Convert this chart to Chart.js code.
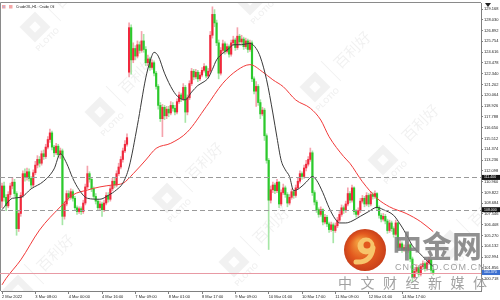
<!DOCTYPE html>
<html><head><meta charset="utf-8">
<script src="https://cdn.jsdelivr.net/npm/chart.js@4"></script>
<style>html,body{margin:0;padding:0;background:#fff;overflow:hidden}canvas{display:block}</style>
</head><body>
<canvas id="c" width="500" height="300"></canvas>
<script>
const title = 'CrudeOIL,H1 : Crude Oil';
const xLabels = ['2 Mar 2022','3 Mar 08:00','4 Mar 00:00','4 Mar 16:00','7 Mar 09:00','8 Mar 01:00','8 Mar 17:00','9 Mar 09:00','10 Mar 01:00','10 Mar 17:00','11 Mar 09:00','12 Mar 01:00','14 Mar 17:00'];
const xLabelBars = [0,16,32,48,64,80,96,112,128,144,160,176,192];
const yTickValues = [129.168,128.030,126.892,125.754,124.616,123.478,122.340,121.202,120.064,118.926,117.788,116.650,115.512,114.374,113.236,112.098,110.960,109.822,108.684,107.546,106.408,105.270,104.132,102.994,101.856,100.718];

const open = [
108.9,110.5,109.3,108.4,109.6,110.5,110.9,109.7,106.0,107.6,
109.5,111.8,111.4,112.0,111.3,110.6,111.9,112.7,113.3,112.9,
113.9,113.6,114.6,115.4,116.1,114.6,114.0,114.7,113.8,114.2,
107.3,108.6,109.7,109.3,109.9,109.2,108.2,107.8,108.1,107.8,
108.7,110.4,111.8,111.2,110.2,109.4,108.9,108.2,108.6,108.0,
108.7,109.5,109.1,110.2,111.0,110.6,111.8,112.5,113.3,114.2,
114.9,122.5,127.2,123.8,125.0,124.2,125.4,124.8,125.8,124.9,
123.5,123.9,123.0,123.5,122.4,121.0,119.0,117.6,118.8,117.9,
118.6,118.2,119.0,118.7,118.3,119.4,120.1,119.7,120.9,118.3,
119.8,121.3,122.6,122.0,122.5,121.8,122.2,122.7,123.1,122.1,
122.6,126.4,128.6,127.7,125.6,122.4,124.8,125.5,124.7,125.2,
124.4,125.6,125.9,125.1,126.3,125.7,126.0,125.2,125.8,124.9,
125.6,121.8,120.5,121.0,119.3,118.1,118.5,115.8,113.2,109.0,
110.1,110.6,110.0,110.9,108.6,109.8,110.3,109.6,108.7,109.3,
109.9,109.5,110.3,111.0,111.8,111.5,112.4,112.8,113.3,114.0,
109.8,108.8,108.0,107.5,108.0,106.7,107.2,106.5,105.9,106.4,
105.8,106.3,106.9,107.5,108.2,107.9,108.6,109.7,109.0,110.3,
107.8,107.5,107.9,108.9,109.2,108.6,109.5,108.6,109.6,109.4,
109.7,108.2,107.4,107.0,107.3,106.8,105.8,106.6,106.0,105.4,
106.6,104.0,104.4,103.8,104.0,103.7,104.3,102.8,100.9,101.5,
101.9,101.2,102.0,102.3,101.8,102.4,102.7,101.6];
const high = [
110.8,110.9,109.6,109.9,110.8,111.4,111.2,109.9,107.9,109.8,
112.1,112.3,112.4,112.3,111.5,112.2,113.1,113.7,113.6,114.2,
114.3,114.9,115.7,116.5,116.3,114.8,115.0,114.9,114.5,114.4,
108.9,110.0,110.0,110.2,110.1,109.4,108.4,108.3,108.3,109.0,
110.7,112.6,112.0,111.4,110.4,109.7,109.1,108.9,108.8,109.0,
109.8,109.8,110.5,111.3,111.3,112.1,112.9,113.6,114.5,115.3,
116.0,127.7,127.5,125.6,125.3,125.8,125.7,126.8,126.5,125.2,
124.3,124.1,123.8,123.7,122.6,121.2,119.3,119.1,119.0,118.9,
118.9,119.4,119.3,119.0,119.7,120.4,120.3,121.3,121.1,120.1,
121.6,122.9,122.8,122.8,122.7,122.5,123.0,123.4,123.2,122.9,
126.8,129.4,129.1,128.0,125.9,125.1,125.9,125.7,125.5,125.4,
125.9,126.3,126.1,127.2,126.5,126.4,126.2,126.1,126.0,125.9,
125.8,122.0,121.5,121.2,119.6,118.8,118.7,116.0,113.4,110.5,
110.9,110.8,111.2,111.0,110.1,110.7,110.5,109.8,109.6,110.2,
110.1,110.6,111.3,112.1,112.0,112.7,113.2,113.6,114.5,114.2,
110.0,109.0,108.2,108.3,108.1,107.5,107.4,106.7,106.7,106.6,
106.6,107.2,107.8,108.5,108.4,108.9,110.3,109.9,110.6,110.4,
108.0,108.2,109.2,109.5,109.4,109.8,109.7,109.9,109.8,110.0,
109.8,108.4,107.6,107.6,107.5,107.0,106.9,106.8,106.2,106.9,
106.7,104.8,104.6,104.3,104.2,104.6,104.4,103.0,101.8,102.2,
102.1,102.3,102.6,102.5,102.7,103.0,102.8,101.8];
const low = [
108.2,108.9,107.9,108.2,109.3,110.2,109.4,105.3,105.7,107.3,
109.3,111.0,111.1,111.0,110.3,110.4,111.7,112.4,112.5,112.7,
113.3,113.4,114.4,115.1,114.3,113.6,113.8,113.5,113.4,106.4,
107.0,108.4,109.0,109.1,108.9,107.9,107.5,107.6,107.5,107.6,
108.5,110.2,110.9,109.9,109.1,108.6,107.9,107.9,107.3,107.8,
108.5,108.8,108.9,110.0,110.3,110.4,111.6,112.3,113.0,114.0,
114.7,122.0,122.3,123.5,123.8,124.0,124.5,124.6,124.6,123.2,
123.2,122.7,122.8,122.1,120.7,118.6,117.3,115.7,117.5,117.6,
117.8,118.0,118.4,118.0,118.1,119.2,119.4,119.5,117.2,118.0,
119.6,121.1,121.7,121.8,121.5,121.6,122.0,122.5,121.9,121.9,
122.4,126.1,127.3,125.3,121.8,122.2,124.5,124.4,124.5,124.1,
124.2,125.3,124.8,124.9,125.4,125.4,124.9,125.0,124.6,124.7,
121.5,120.2,118.9,119.0,117.6,117.9,115.3,112.9,103.8,108.7,
109.8,109.7,109.8,108.2,108.4,109.6,109.3,108.3,108.5,109.1,
109.2,109.3,110.1,110.8,111.2,111.3,112.1,112.6,113.1,109.5,
108.5,107.7,107.2,107.3,106.4,106.5,106.2,105.6,105.7,104.5,
105.6,106.1,106.7,107.3,107.6,107.7,108.4,108.7,108.8,107.5,
107.2,107.3,107.7,108.7,108.3,108.4,108.3,108.4,109.1,109.2,
107.9,107.1,106.7,106.8,106.5,105.5,105.6,105.7,105.1,105.2,
103.7,103.8,103.5,103.6,103.4,103.5,102.5,100.4,100.7,101.3,
100.9,101.0,101.8,101.5,101.6,102.2,101.3,101.1];
const close = [
110.5,109.3,108.4,109.6,110.5,110.9,109.7,106.0,107.6,109.5,
111.8,111.4,112.0,111.3,110.6,111.9,112.7,113.3,112.9,113.9,
113.6,114.6,115.4,116.1,114.6,114.0,114.7,113.8,114.2,107.3,
108.6,109.7,109.3,109.9,109.2,108.2,107.8,108.1,107.8,108.7,
110.4,111.8,111.2,110.2,109.4,108.9,108.2,108.6,108.0,108.7,
109.5,109.1,110.2,111.0,110.6,111.8,112.5,113.3,114.2,114.9,
115.6,127.2,123.8,125.0,124.2,125.4,124.8,125.8,124.9,123.5,
123.9,123.0,123.5,122.4,121.0,119.0,117.6,118.8,117.9,118.6,
118.2,119.0,118.7,118.3,119.4,120.1,119.7,120.9,118.3,119.8,
121.3,122.6,122.0,122.5,121.8,122.2,122.7,123.1,122.1,122.6,
126.4,128.6,127.7,125.6,122.4,124.8,125.5,124.7,125.2,124.4,
125.6,125.9,125.1,126.3,125.7,126.0,125.2,125.8,124.9,125.6,
121.8,120.5,121.0,119.3,118.1,118.5,115.8,113.2,109.0,110.1,
110.6,110.0,110.9,108.6,109.8,110.3,109.6,108.7,109.3,109.9,
109.5,110.3,111.0,111.8,111.5,112.4,112.8,113.3,114.0,109.8,
108.8,108.0,107.5,108.0,106.7,107.2,106.5,105.9,106.4,105.8,
106.3,106.9,107.5,108.2,107.9,108.6,109.7,109.0,110.3,107.8,
107.5,107.9,108.9,109.2,108.6,109.5,108.6,109.6,109.4,109.7,
108.2,107.4,107.0,107.3,106.8,105.8,106.6,106.0,105.4,106.6,
104.0,104.4,103.8,104.0,103.7,104.3,102.8,100.9,101.5,101.9,
101.2,102.0,102.3,101.8,102.4,102.7,101.6,101.37];

const maFastIdx = [0,5,9,14,20,25,28,31,34,37,41,47,51,55,58,61,65,69,71,73,75,78,82,85,88,91,94,97,99,101,103,106,109,111,115,119,122,124,127,130,132,134,136,138,140,143,146,149,151,154,157,160,162,165,168,172,176,180,183,188,191,193,195,197,200,202,204,207];
const maFastVal = [108.0,109.2,109.3,110.2,111.0,112.3,113.9,112.9,111.3,110.1,109.2,109.1,109.5,110.1,110.8,112.5,116.9,121.9,123.6,124.6,124.2,122.4,120.6,119.8,119.6,120.4,121.1,121.5,121.9,122.8,123.8,124.5,125.0,125.4,125.4,125.55,125.0,124.1,121.7,118.2,115.6,113.2,112.2,111.5,110.0,110.3,110.9,111.5,111.1,109.8,108.2,107.0,106.6,106.6,106.8,107.3,107.8,108.25,108.0,107.4,106.5,105.8,105.0,104.2,103.5,103.05,102.6,102.0];
const maSlowIdx = [0,2,9,18,28,34,41,47,53,58,63,69,74,81,89,98,106,113,119,125,130,135,141,148,153,157,164,167,173,180,186,194,201,207];
const maSlowVal = [100.07,100.76,102.7,105.85,108.3,109.55,110.07,110.4,110.6,110.78,111.8,113.24,114.47,115.0,116.2,118.86,121.33,122.73,123.3,122.55,121.7,120.97,119.57,118.7,117.46,115.7,113.6,112.89,110.95,109.2,108.3,107.6,106.73,105.68];

const levels = [111.40, 108.00];
const bidPrice = 101.37;

const UP='#f0283c', DOWN='#2cc92c', UPW='#f5a3ad', DOWNW='#a6e6a6';

// faint broker watermark tiles (page decoration)
const wmCenters = [[35,27],[100,112],[167,198],[234,262],[18,290],[250,0],[315,87],[383,160],[450,245]];
function drawWatermarks(ctx){
  ctx.save();
  wmCenters.forEach(([cx,cy])=>{
    ctx.save();
    ctx.translate(cx,cy); ctx.rotate(-Math.PI/4);
    ctx.fillStyle='rgba(0,0,0,0.055)';
    ctx.fillRect(-11,-11,22,22);
    ctx.fillStyle='rgba(255,255,255,0.9)';
    ctx.fillRect(-4,-4,8,8);
    ctx.fillStyle='rgba(0,0,0,0.06)';
    ctx.font='bold 8px "Liberation Sans"'; ctx.textAlign='center'; ctx.textBaseline='middle';
    ctx.fillText('PLOTIO',0,18);
    ctx.fillRect(22,-14,1,28);
    ctx.font='15px "Noto Sans CJK SC"'; ctx.textAlign='left';
    ctx.fillText('百利好',30,0);
    ctx.restore();
  });
  ctx.restore();
}

function drawLogo(ctx){
  ctx.save();
  const cx=365, cy=250, r=21;
  const g=ctx.createRadialGradient(cx-6,cy-8,2,cx,cy,r);
  g.addColorStop(0,'#f39a3c'); g.addColorStop(0.6,'#e2581e'); g.addColorStop(1,'#c9401a');
  ctx.fillStyle=g; ctx.beginPath(); ctx.arc(cx,cy,r,0,Math.PI*2); ctx.fill();
  ctx.fillStyle='#f7c56b';
  ctx.beginPath(); ctx.arc(cx+1,cy-4,8.5,0,Math.PI*2); ctx.fill();
  ctx.fillStyle='#e2581e'; ctx.beginPath(); ctx.arc(cx+2,cy-5,3.5,0,Math.PI*2); ctx.fill();
  ctx.strokeStyle='#f7c56b'; ctx.lineWidth=5; ctx.lineCap='round';
  ctx.beginPath(); ctx.moveTo(cx+8,cy-2); ctx.quadraticCurveTo(cx+6,cy+13,cx-9,cy+12); ctx.stroke();
  ctx.fillStyle='rgba(125,125,125,0.85)';
  ctx.font='bold 30px "Noto Sans CJK SC"'; ctx.textBaseline='middle'; ctx.textAlign='left';
  ctx.fillText('中金网',392,246);
  ctx.fillStyle='rgba(150,150,150,0.9)';
  ctx.font='9px "Liberation Sans"'; ctx.letterSpacing='1px';
  ctx.fillText('CNGOLD.COM.CN',395,268);
  ctx.letterSpacing='0px';
  ctx.font='14px "Noto Sans CJK SC"'; ctx.textAlign='center';
  '中文财经新媒体'.split('').forEach((ch,k)=>ctx.fillText(ch,345+k*22.5,283));
  ctx.restore();
}

const decor = {
  id:'decor',
  beforeDraw(chart){
    const {ctx,width,height}=chart;
    ctx.save(); ctx.fillStyle='#fff'; ctx.fillRect(0,0,width,height); ctx.restore();
  },
  beforeDatasetsDraw(chart){
    const {ctx, chartArea:a}=chart;
    ctx.save();
    ctx.beginPath(); ctx.rect(a.left,a.top,a.right-a.left,a.bottom-a.top); ctx.clip();
    drawWatermarks(ctx);
    ctx.restore();
    ctx.save(); ctx.strokeStyle='#8a8a8a'; ctx.lineWidth=1;
    ctx.beginPath(); ctx.moveTo(a.left-0.5,a.bottom); ctx.lineTo(a.left-0.5,a.top-0.5); ctx.lineTo(a.right,a.top-0.5); ctx.stroke();
    ctx.restore();
  },
  afterDatasetsDraw(chart){
    const {ctx, chartArea:a, scales:{y}}=chart;
    ctx.save();
    ctx.lineWidth=1; ctx.strokeStyle='#9a9a9a'; ctx.setLineDash([5,3]);
    levels.forEach(v=>{ const py=Math.round(y.getPixelForValue(v))+0.5; ctx.beginPath(); ctx.moveTo(a.left-1,py); ctx.lineTo(a.right,py); ctx.stroke(); });
    ctx.setLineDash([]); ctx.strokeStyle='#e89aa4';
    const pb=Math.round(y.getPixelForValue(bidPrice))+0.5;
    ctx.beginPath(); ctx.moveTo(a.left-1,pb); ctx.lineTo(a.right,pb); ctx.stroke();
    ctx.restore();
  },
  afterDraw(chart){
    const {ctx, chartArea:a, scales:{y}}=chart;
    drawLogo(ctx);
    ctx.save();
    ctx.font='3.5px "Liberation Sans"'; ctx.textBaseline='middle'; ctx.textAlign='left';
    const tag=(v,bg)=>{ const py=y.getPixelForValue(v); ctx.fillStyle=bg; ctx.fillRect(a.right+1,py-2.5,18,5); ctx.fillStyle='#fff'; ctx.fillText(v.toFixed(3),a.right+3,py); };
    levels.forEach(v=>tag(v,'#111'));
    tag(bidPrice,'#3b6fd0');
    ctx.fillStyle='#f4a6a6'; ctx.fillRect(2,5,3.5,3.5); ctx.fillStyle='#9fb8ee'; ctx.fillRect(3,6,1.5,1.5);
    ctx.fillStyle='#f4a6a6'; ctx.fillRect(9,5,3.5,3.5);
    ctx.fillStyle='#111'; ctx.fillText(title,16,7);
    ctx.fillStyle='#222'; ctx.beginPath(); ctx.moveTo(485,3); ctx.lineTo(491,3); ctx.lineTo(488,7); ctx.closePath(); ctx.fill();
    ctx.restore();
  }
};

new Chart(document.getElementById('c'), {
  type:'bar',
  data:{ datasets:[
    { type:'line', label:'MA fast', data:maFastIdx.map((x,k)=>({x, y:maFastVal[k]})), borderColor:'#3a3a3a', borderWidth:1, pointRadius:0, cubicInterpolationMode:'monotone', order:0 },
    { type:'line', label:'MA slow', data:maSlowIdx.map((x,k)=>({x, y:maSlowVal[k]})), borderColor:'#f23a3a', borderWidth:1, pointRadius:0, cubicInterpolationMode:'monotone', order:1 },
    { label:'body', data:close.map((c,i)=>({x:i, y:[open[i], c]})), backgroundColor:c=>{const i=c.dataIndex; return close[i]>=open[i]?UP:DOWN;}, barThickness:1.5, minBarLength:1, grouped:false, order:2 },
    { label:'wick', data:high.map((h,i)=>({x:i, y:[low[i], h]})), backgroundColor:c=>{const i=c.dataIndex; return close[i]>=open[i]?UPW:DOWNW;}, barThickness:1, grouped:false, order:3 }
  ]},
  options:{
    responsive:false, animation:false, events:[],
    layout:{padding:{left:1, top:3, right:0, bottom:0}},
    plugins:{legend:{display:false}, tooltip:{enabled:false}},
    scales:{
      x:{ type:'linear', min:-0.48, max:229.92, offset:false,
          grid:{drawOnChartArea:false, tickLength:3, color:'#808080', offset:false},
          border:{display:true, color:'#808080'},
          ticks:{autoSkip:false, maxRotation:0, align:'start', padding:0, font:{family:'Liberation Sans', size:4}, color:'#222', callback:(v,i)=>xLabels[i]},
          afterBuildTicks:s=>{ s.ticks = xLabelBars.map(v=>({value:v})); },
          afterFit:s=>{ s.height=9; s.paddingLeft=0; s.paddingRight=0; } },
      y:{ position:'right', min:99.421, max:129.801,
          grid:{drawOnChartArea:false, tickLength:2, color:'#808080'},
          border:{display:true, color:'#808080'},
          ticks:{autoSkip:false, padding:1, font:{family:'Liberation Sans', size:4}, color:'#222', callback:v=>v.toFixed(3)},
          afterBuildTicks:s=>{ s.ticks = yTickValues.map(v=>({value:v})); },
          afterFit:s=>{ s.width=19; s.paddingTop=0; s.paddingBottom=0; } }
    }
  },
  plugins:[decor]
});
</script>
</body></html>
